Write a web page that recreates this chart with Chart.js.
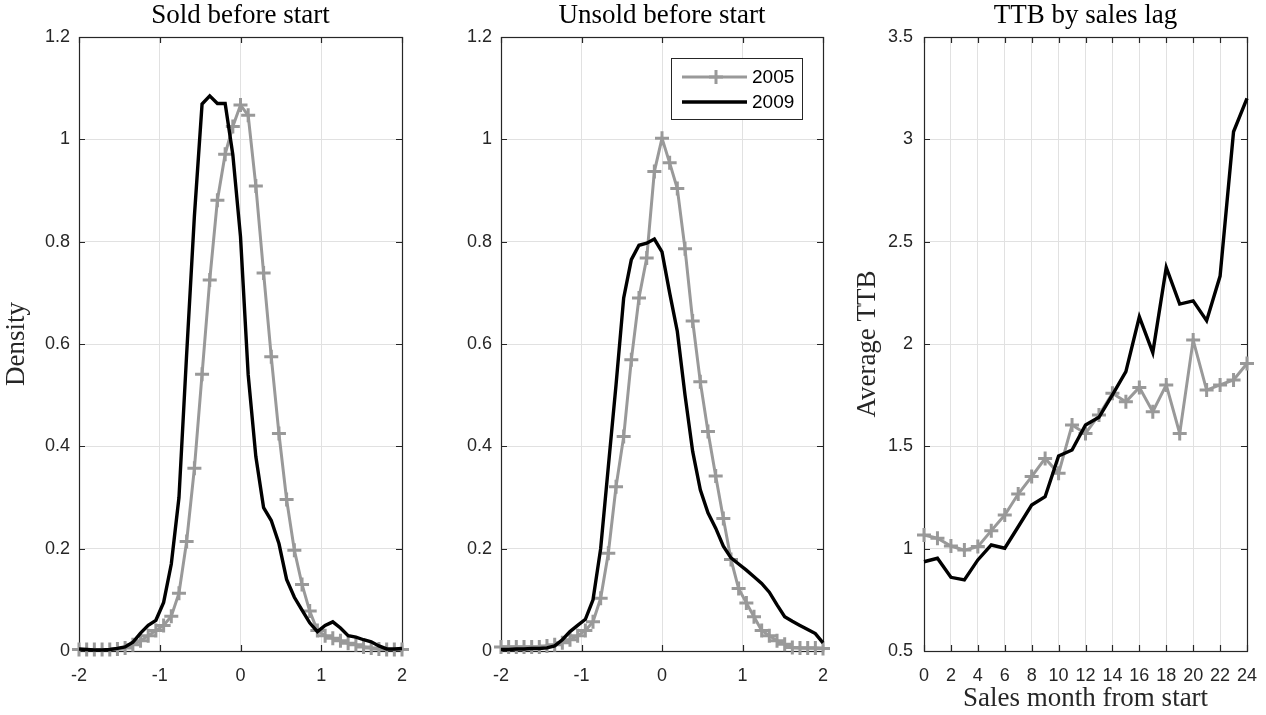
<!DOCTYPE html>
<html><head><meta charset="utf-8">
<script src="https://cdn.jsdelivr.net/npm/chart.js@4.4.0/dist/chart.umd.min.js"></script>
<style>
html,body{margin:0;padding:0;background:#fff;}
#wrap{position:relative;width:1266px;height:715px;overflow:hidden;background:#fff;}
canvas{position:absolute;left:0;top:0;}
</style></head><body>
<div id="wrap">
<canvas id="c1" width="1266" height="715"></canvas>
<canvas id="c2" width="1266" height="715"></canvas>
<canvas id="c3" width="1266" height="715"></canvas>
</div>
<script>
// ---------- data ----------
const densityGrid = [-2.000,-1.905,-1.810,-1.714,-1.619,-1.524,-1.429,-1.333,-1.238,-1.143,-1.048,
  -0.952,-0.857,-0.762,-0.667,-0.571,-0.476,-0.381,-0.286,-0.190,-0.095,0,
  0.095,0.190,0.286,0.381,0.476,0.571,0.667,0.762,0.857,0.952,
  1.048,1.143,1.238,1.333,1.429,1.524,1.619,1.714,1.810,1.905,2.000];

const sold2005 = [0.003,0.003,0.003,0.003,0.003,0.004,0.006,0.012,0.020,0.030,0.040,
  0.050,0.068,0.113,0.214,0.357,0.541,0.725,0.881,0.971,1.025,1.067,
  1.047,0.909,0.739,0.575,0.425,0.296,0.197,0.130,0.078,0.040,
  0.030,0.025,0.020,0.015,0.012,0.008,0.006,0.004,0.003,0.003,0.003];

const sold2009 = [0.004,0.003,0.002,0.002,0.003,0.005,0.008,0.017,0.035,0.050,0.060,
  0.095,0.170,0.300,0.580,0.850,1.069,1.085,1.070,1.070,0.970,0.810,
  0.540,0.380,0.280,0.255,0.210,0.140,0.105,0.080,0.055,0.038,
  0.050,0.057,0.045,0.030,0.027,0.022,0.018,0.010,0.004,0.004,0.005];

const unsold2005 = [0.008,0.008,0.008,0.008,0.008,0.008,0.010,0.012,0.016,0.022,0.030,
  0.040,0.057,0.103,0.191,0.321,0.419,0.569,0.690,0.768,0.937,1.002,
  0.954,0.904,0.786,0.645,0.526,0.429,0.342,0.259,0.179,0.122,
  0.094,0.067,0.040,0.030,0.020,0.013,0.007,0.006,0.006,0.006,0.005];

const unsold2009 = [0.003,0.003,0.004,0.004,0.005,0.005,0.006,0.010,0.022,0.038,0.050,
  0.062,0.100,0.200,0.360,0.520,0.690,0.765,0.793,0.797,0.805,0.780,
  0.700,0.625,0.500,0.390,0.315,0.270,0.240,0.205,0.182,0.170,
  0.158,0.145,0.132,0.115,0.090,0.067,0.058,0.050,0.042,0.034,0.016];

const months = [0,1,2,3,4,5,6,7,8,9,10,11,12,13,14,15,16,17,18,19,20,21,22,23,24];
const ttb2005 = [1.067,1.051,1.013,0.993,1.010,1.088,1.164,1.267,1.352,1.441,1.368,1.604,1.563,
  1.653,1.759,1.718,1.788,1.669,1.800,1.563,2.019,1.775,1.800,1.824,1.905];
const ttb2009 = [0.936,0.953,0.860,0.847,0.945,1.018,1.002,1.107,1.213,1.254,1.453,1.482,1.604,
  1.642,1.751,1.865,2.133,1.958,2.374,2.195,2.211,2.114,2.332,3.037,3.200];

const densityXTicks = [-2,-1,0,1,2];
const densityYTicks = [0,0.2,0.4,0.6,0.8,1,1.2];
const ttbXTicks = [0,2,4,6,8,10,12,14,16,18,20,22,24];
const ttbYTicks = [0.5,1,1.5,2,2.5,3,3.5];
const seriesNames = ['2005','2009'];

// ---------- style ----------
const GRAY = '#999999', BLACK = '#000000', AXIS = '#262626', GRID = '#e1e1e1';
const SERIF = '"Liberation Serif", "Times New Roman", serif';
const SANS = '"Liberation Sans", Arial, sans-serif';
const SERIF_SIZE = 27;
Chart.defaults.font.family = SANS;

const pts = (xs, ys) => xs.map((x, i) => ({x: x, y: ys[i]}));

const frame = {
  id: 'frame',
  beforeDatasetsDraw(chart) {
    const {ctx, chartArea: a, scales: {x, y}} = chart;
    const L = 6;
    ctx.save();
    ctx.strokeStyle = AXIS; ctx.lineWidth = 1.2;
    ctx.beginPath();
    x.ticks.forEach(t => {
      const p = Math.round(x.getPixelForValue(t.value)) + 0.5;
      ctx.moveTo(p, a.bottom); ctx.lineTo(p, a.bottom - L);
      ctx.moveTo(p, a.top); ctx.lineTo(p, a.top + L);
    });
    y.ticks.forEach(t => {
      const p = Math.round(y.getPixelForValue(t.value)) + 0.5;
      ctx.moveTo(a.left, p); ctx.lineTo(a.left + L, p);
      ctx.moveTo(a.right, p); ctx.lineTo(a.right - L, p);
    });
    ctx.stroke();
    ctx.strokeRect(Math.round(a.left) + 0.5, Math.round(a.top) + 0.5,
      Math.round(a.right - a.left), Math.round(a.bottom - a.top));
    ctx.restore();
  }
};

const legendBox = {
  id: 'legendBox',
  afterDatasetsDraw(chart) {
    const {ctx, chartArea: a} = chart;
    const w = 131, h = 61;
    const x0 = Math.round(a.right - 21 - w), y0 = Math.round(a.top + 21);
    ctx.save();
    ctx.fillStyle = '#fff'; ctx.fillRect(x0, y0, w, h);
    ctx.strokeStyle = AXIS; ctx.lineWidth = 1; ctx.strokeRect(x0 + 0.5, y0 + 0.5, w, h);
    chart.data.datasets.forEach((ds, i) => {
      const cy = y0 + 19 + i * 25;
      ctx.strokeStyle = ds.borderColor; ctx.lineWidth = ds.borderWidth;
      ctx.beginPath(); ctx.moveTo(x0 + 11, cy); ctx.lineTo(x0 + 76, cy); ctx.stroke();
      if (ds.pointStyle === 'cross') {
        const cx = x0 + 45, r = ds.pointRadius;
        ctx.lineWidth = ds.pointBorderWidth;
        ctx.beginPath();
        ctx.moveTo(cx - r, cy); ctx.lineTo(cx + r, cy);
        ctx.moveTo(cx, cy - r); ctx.lineTo(cx, cy + r);
        ctx.stroke();
      }
      ctx.fillStyle = '#000'; ctx.font = '19px ' + SANS;
      ctx.textBaseline = 'middle'; ctx.textAlign = 'left';
      ctx.fillText(ds.label, x0 + 81, cy + 1);
    });
    ctx.restore();
  }
};

function ds2005(data) {
  return {label: seriesNames[0], data, borderColor: GRAY, borderWidth: 3, pointStyle: 'cross',
    pointRadius: 7, pointBorderWidth: 3, pointBorderColor: GRAY, pointBackgroundColor: GRAY,
    tension: 0, clip: false, order: 1};
}
function ds2009(data) {
  return {label: seriesNames[1], data, borderColor: BLACK, borderWidth: 3.4, pointRadius: 0,
    tension: 0, clip: false, order: 0};
}

function axisX(ticksArr, min, max, height, titleText) {
  return {
    type: 'linear', min, max,
    afterBuildTicks: s => { s.ticks = ticksArr.map(v => ({value: v})); },
    afterFit: s => { s.height = height; s.paddingLeft = 0; s.paddingRight = 0; },
    grid: {color: GRID, lineWidth: 1, drawTicks: false},
    border: {display: false},
    ticks: {color: AXIS, font: {size: 18, family: SANS}, padding: 14, autoSkip: false,
      maxRotation: 0, minRotation: 0, callback: v => String(v)},
    title: titleText ? {display: true, text: titleText, color: AXIS,
      font: {family: SERIF, size: SERIF_SIZE, lineHeight: 1.2}, padding: {top: 0, bottom: 0}} : {display: false}
  };
}
function axisY(ticksArr, min, max, width, pad, titleText) {
  return {
    type: 'linear', min, max,
    afterBuildTicks: s => { s.ticks = ticksArr.map(v => ({value: v})); },
    afterFit: s => { s.width = width; s.paddingTop = 0; s.paddingBottom = 0; },
    grid: {color: GRID, lineWidth: 1, drawTicks: false},
    border: {display: false},
    ticks: {color: AXIS, font: {size: 18, family: SANS}, padding: pad, callback: v => String(v)},
    title: titleText ? {display: true, text: titleText, color: AXIS,
      font: {family: SERIF, size: SERIF_SIZE, lineHeight: 1.2}, padding: {top: 0, bottom: 0}} : {display: false}
  };
}

function makeChart(id, cfg) {
  return new Chart(document.getElementById(id), {
    type: 'line',
    data: {datasets: cfg.datasets},
    options: {
      responsive: false, animation: false, devicePixelRatio: 1, events: [],
      layout: {padding: cfg.padding, autoPadding: false},
      plugins: {
        legend: {display: false}, tooltip: {enabled: false},
        title: {display: true, text: cfg.title, color: '#000', fullSize: false,
          font: {family: SERIF, size: SERIF_SIZE, weight: 'normal', lineHeight: 1.2},
          padding: {top: 0, bottom: 37 - SERIF_SIZE * 1.2}}
      },
      scales: {x: cfg.x, y: cfg.y}
    },
    plugins: cfg.plugins
  });
}

makeChart('c1', {
  title: 'Sold before start',
  datasets: [ds2005(pts(densityGrid, sold2005)), ds2009(pts(densityGrid, sold2009))],
  padding: {left: 1, right: 864, top: 0, bottom: 24},
  x: axisX(densityXTicks, -2, 2, 40, null),
  y: axisY(densityYTicks, 0, 1.2, 78, 9, 'Density'),
  plugins: [frame]
});

makeChart('c2', {
  title: 'Unsold before start',
  datasets: [ds2005(pts(densityGrid, unsold2005)), ds2009(pts(densityGrid, unsold2009))],
  padding: {left: 451, right: 443, top: 0, bottom: 24},
  x: axisX(densityXTicks, -2, 2, 40, null),
  y: axisY(densityYTicks, 0, 1.2, 50, 9, null),
  plugins: [frame, legendBox]
});

makeChart('c3', {
  title: 'TTB by sales lag',
  datasets: [ds2005(pts(months, ttb2005)), ds2009(pts(months, ttb2009))],
  padding: {left: 852, right: 19, top: 0, bottom: 0},
  x: axisX(ttbXTicks, 0, 24, 64, 'Sales month from start'),
  y: axisY(ttbYTicks, 0.5, 3.5, 72, 11, 'Average TTB'),
  plugins: [frame]
});
</script>
</body></html>
